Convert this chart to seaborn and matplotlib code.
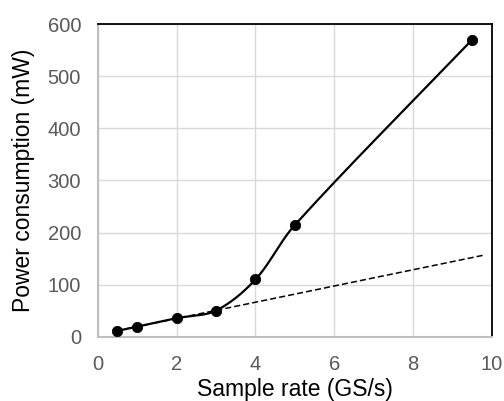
import matplotlib
matplotlib.use("Agg")
import matplotlib.pyplot as plt
import seaborn as sns
import numpy as np

# measured points
sample_rate = [0.5, 1, 2, 3, 4, 5, 9.5]
power_mw = [11.5, 19.7, 35.8, 50.4, 110, 214.5, 570]
# linear trend of the low-rate points, drawn out to ~9.8 GS/s
trend_n = 4
trend_end = 9.8

x_ticks = [0, 2, 4, 6, 8, 10]
y_ticks = [0, 100, 200, 300, 400, 500, 600]


def smooth(xs, ys, scale=(39.4, 0.522), n=40):
    # smoothed line through the points, tangents scaled by the chord lengths
    # (distances measured on screen so short segments stay tight)
    p = np.column_stack([xs, ys]).astype(float)
    p = np.vstack([p[0], p, p[-1]])
    sc = np.array(scale)
    out = []
    for i in range(1, len(p) - 2):
        p0, p1, p2, p3 = p[i - 1], p[i], p[i + 1], p[i + 2]
        d01 = np.linalg.norm((p1 - p0) * sc)
        d12 = np.linalg.norm((p2 - p1) * sc)
        d23 = np.linalg.norm((p3 - p2) * sc)
        c1 = p1 + (p2 - p0) * d12 / (d01 + d12) / 3
        c2 = p2 - (p3 - p1) * d12 / (d12 + d23) / 3
        t = np.linspace(0, 1, n)[:, None]
        seg = (1 - t) ** 3 * p1 + 3 * (1 - t) ** 2 * t * c1 + 3 * (1 - t) * t ** 2 * c2 + t ** 3 * p2
        out.append(seg if i == 1 else seg[1:])
    out = np.vstack(out)
    return out[:, 0], out[:, 1]


sns.set_theme(style="white")
plt.rcParams['font.family'] = ['Liberation Sans', 'DejaVu Sans']

fig = plt.figure(figsize=(5.04, 4.01), dpi=100)
ax = fig.add_axes([0.194, 0.160, 0.782, 0.780])

# trend line
k, b = np.polyfit(sample_rate[:trend_n], power_mw[:trend_n], 1)
tx = np.array([sample_rate[0], trend_end])
sns.lineplot(x=tx, y=k * tx + b, ax=ax, color="black", lw=1.1,
             linestyle=(0, (4, 2)), zorder=3)

sx, sy = smooth(sample_rate, power_mw)
sns.lineplot(x=sx, y=sy, ax=ax, color="black", lw=1.6, sort=False, zorder=4)
sns.scatterplot(x=sample_rate, y=power_mw, ax=ax, color="black", s=55,
                edgecolor="black", zorder=5)

ax.set_xlim(0, 10)
ax.set_ylim(0, 600)
ax.set_xticks(x_ticks)
ax.set_yticks(y_ticks)
ax.grid(True, color="#d9d9d9", lw=1.0)
ax.set_axisbelow(True)

for side in ["left", "bottom"]:
    ax.spines[side].set_color("#bfbfbf")
    ax.spines[side].set_linewidth(1.5)
for side in ["top", "right"]:
    ax.spines[side].set_color("black")
    ax.spines[side].set_linewidth(1.3)

ax.tick_params(axis="both", labelsize=14.5, labelcolor="#595959", length=0)
ax.tick_params(axis="y", pad=12)
ax.tick_params(axis="x", pad=13)
ax.set_xlabel("Sample rate (GS/s)", fontsize=16.5, color="black", labelpad=3)
ax.set_ylabel("Power consumption (mW)", fontsize=16.5, color="black", labelpad=9)

fig.savefig("out.png", dpi=100)
